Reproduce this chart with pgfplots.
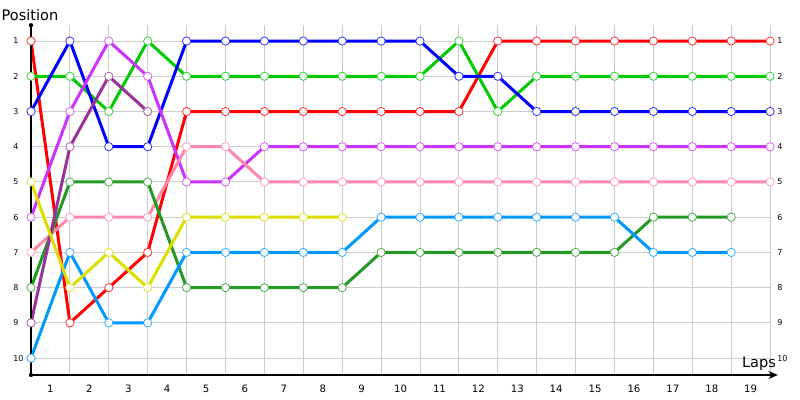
\documentclass[border=0pt]{standalone}
\usepackage{pgfplots}
\pgfplotsset{compat=1.18}
\usetikzlibrary{arrows.meta}
\usepackage{fontspec}
\setmainfont{DejaVu Sans}

\definecolor{cRed}{HTML}{FF0000}
\definecolor{cGreen}{HTML}{00CC00}
\definecolor{cBlue}{HTML}{0000FF}
\definecolor{cViolet}{HTML}{CC33FF}
\definecolor{cPink}{HTML}{FF88AA}
\definecolor{cDkGreen}{HTML}{229922}
\definecolor{cDkPurple}{HTML}{993399}
\definecolor{cLtBlue}{HTML}{0099FF}
\definecolor{cYellow}{HTML}{DDDD00}

\pgfplotsset{
  racer/.style={draw=#1, line width=2.25pt, mark=*, mark size=3.1pt,
    mark options={fill=white, draw=#1!80!white, line width=0.6pt}},
}

\begin{document}
\begin{tikzpicture}
\path[use as bounding box] (-23.25pt,-18.75pt) rectangle (576.75pt,281.25pt);
\begin{axis}[
  at={(0,0)}, anchor=south west,
  x=29.175pt, y=26.42pt, y dir=reverse,
  xmin=0, xmax=19, ymin=0.55, ymax=10.48,
  axis line style={draw=none}, tick style={draw=none}, major tick length=0pt,
  xtick={0.5,1.5,...,18.5},
  xticklabels={1,2,3,4,5,6,7,8,9,10,11,12,13,14,15,16,17,18,19},
  minor xtick={0,1,...,19}, xminorgrids=true,
  ytick={1,2,...,10}, ymajorgrids=true,
  grid style={draw=black!20, line width=0.75pt},
  minor grid style={draw=black!20, line width=0.75pt},
  /pgf/number format/assume math mode=true,
  xticklabel style={anchor=north, inner sep=0pt, yshift=-7.5pt, font=\fontsize{7.6}{9}\selectfont},
  yticklabel style={anchor=west, inner sep=0pt, xshift=-13.5pt, font=\fontsize{6}{7}\selectfont},
  clip=false,
]
\addplot[racer=cRed] coordinates {(0,1)(1,9)(2,8)(3,7)(4,3)(5,3)(6,3)(7,3)(8,3)(9,3)(10,3)(11,3)(12,1)(13,1)(14,1)(15,1)(16,1)(17,1)(18,1)(19,1)};
\addplot[racer=cGreen] coordinates {(0,2)(1,2)(2,3)(3,1)(4,2)(5,2)(6,2)(7,2)(8,2)(9,2)(10,2)(11,1)(12,3)(13,2)(14,2)(15,2)(16,2)(17,2)(18,2)(19,2)};
\addplot[racer=cBlue] coordinates {(0,3)(1,1)(2,4)(3,4)(4,1)(5,1)(6,1)(7,1)(8,1)(9,1)(10,1)(11,2)(12,2)(13,3)(14,3)(15,3)(16,3)(17,3)(18,3)(19,3)};
\addplot[racer=cViolet] coordinates {(0,6)(1,3)(2,1)(3,2)(4,5)(5,5)(6,4)(7,4)(8,4)(9,4)(10,4)(11,4)(12,4)(13,4)(14,4)(15,4)(16,4)(17,4)(18,4)(19,4)};
\addplot[racer=cPink] coordinates {(0,7)(1,6)(2,6)(3,6)(4,4)(5,4)(6,5)(7,5)(8,5)(9,5)(10,5)(11,5)(12,5)(13,5)(14,5)(15,5)(16,5)(17,5)(18,5)(19,5)};
\addplot[racer=cDkGreen] coordinates {(0,8)(1,5)(2,5)(3,5)(4,8)(5,8)(6,8)(7,8)(8,8)(9,7)(10,7)(11,7)(12,7)(13,7)(14,7)(15,7)(16,6)(17,6)(18,6)};
\addplot[racer=cDkPurple] coordinates {(0,9)(1,4)(2,2)(3,3)};
\addplot[racer=cLtBlue] coordinates {(0,10)(1,7)(2,9)(3,9)(4,7)(5,7)(6,7)(7,7)(8,7)(9,6)(10,6)(11,6)(12,6)(13,6)(14,6)(15,6)(16,7)(17,7)(18,7)};
\addplot[racer=cYellow] coordinates {(0,5)(1,8)(2,7)(3,8)(4,6)(5,6)(6,6)(7,6)(8,6)};
% axis lines
\draw[black, line width=1.4pt] (axis cs:0,10.48) -- (axis cs:0,0.55);
\fill[black] (axis cs:0,0.55) circle (1.6pt);
\fill[black] (axis cs:0,10.48) circle (1.6pt);
\draw[black, line width=1.4pt, -{Stealth[length=7pt,width=6pt]}] (axis cs:0,10.48) -- (axis cs:19.2,10.48);
% labels on the right
\pgfplotsinvokeforeach{1,...,10}{
  \node[anchor=west, inner sep=0pt, xshift=5.25pt, font=\fontsize{6}{7}\selectfont] at (axis cs:19,#1) {#1};
}
\end{axis}
\node[font=\fontsize{10.9}{12}\selectfont] at (-0.75pt,270pt) {Position};
\node[font=\fontsize{10.9}{12}\selectfont] at (546pt,8.25pt) {Laps};
\end{tikzpicture}
\end{document}
